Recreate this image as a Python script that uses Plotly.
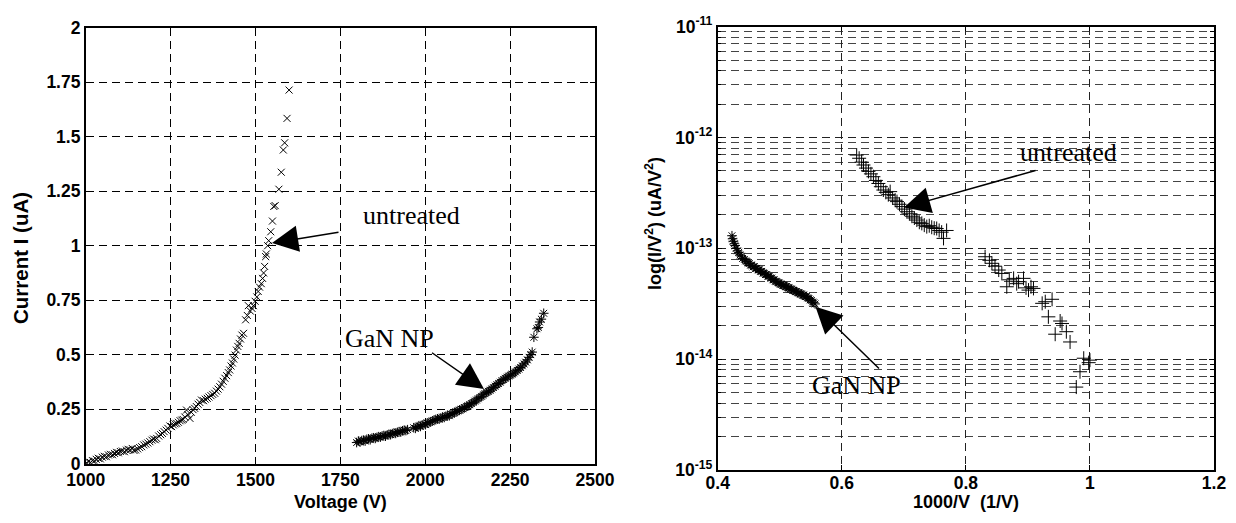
import plotly.graph_objects as go

# ---------------- data ----------------
# Left panel: I-V curves
untr_V = [1003, 1008, 1014, 1020, 1026, 1031, 1037, 1043, 1049, 1055, 1061, 1067, 1073, 1079, 1085,
          1091, 1096, 1102, 1108, 1114, 1120, 1125, 1131, 1137, 1142, 1147, 1153, 1159, 1165, 1171,
          1177, 1183, 1189, 1195, 1200, 1205, 1209, 1215, 1221, 1226, 1231, 1237, 1242, 1248, 1253,
          1258, 1263, 1268, 1273, 1278, 1283, 1287, 1292, 1297, 1301, 1307, 1311, 1316, 1321, 1326,
          1331, 1336, 1341, 1347, 1352, 1358, 1363, 1369, 1374, 1380, 1385, 1390, 1395, 1400, 1405,
          1410, 1415, 1420, 1424, 1428, 1432, 1436, 1440, 1444, 1448, 1452, 1456, 1460, 1465, 1471,
          1476, 1479, 1485, 1490, 1494, 1499, 1504, 1508, 1512, 1517, 1521, 1524, 1527, 1530, 1532,
          1536, 1539, 1545, 1550, 1554, 1558, 1569, 1576, 1582, 1586, 1593, 1599]
untr_I = [0.004, 0.009, 0.006, 0.014, 0.012, 0.020, 0.025, 0.022, 0.030, 0.034, 0.032, 0.040, 0.043, 0.041, 0.047,
          0.052, 0.050, 0.056, 0.058, 0.055, 0.062, 0.066, 0.064, 0.070, 0.061, 0.063, 0.068, 0.074, 0.078, 0.086,
          0.090, 0.095, 0.101, 0.108, 0.113, 0.110, 0.116, 0.127, 0.133, 0.139, 0.147, 0.154, 0.162, 0.173, 0.170,
          0.178, 0.183, 0.185, 0.190, 0.197, 0.200, 0.203, 0.214, 0.246, 0.225, 0.208, 0.236, 0.248, 0.254, 0.262,
          0.273, 0.281, 0.292, 0.289, 0.296, 0.300, 0.306, 0.312, 0.318, 0.323, 0.333, 0.342, 0.353, 0.365, 0.378,
          0.392, 0.404, 0.418, 0.430, 0.448, 0.462, 0.480, 0.498, 0.521, 0.538, 0.552, 0.572, 0.590, 0.598, 0.660,
          0.680, 0.725, 0.700, 0.712, 0.725, 0.745, 0.765, 0.790, 0.810, 0.826, 0.850, 0.875, 0.905, 0.950, 0.962,
          1.000, 1.023, 1.064, 1.113, 1.180, 1.184, 1.259, 1.337, 1.439, 1.472, 1.584, 1.714]

gan_V = [1798, 1803, 1808, 1813, 1818, 1823, 1828, 1833, 1838, 1843, 1848, 1853, 1858, 1863, 1868,
         1873, 1878, 1883, 1888, 1893, 1898, 1903, 1908, 1913, 1918, 1923, 1928, 1933, 1938, 1943,
         1948, 1966, 1971, 1976, 1981, 1986, 1991, 1996, 2001, 2006, 2011, 2016, 2021, 2026, 2031,
         2036, 2041, 2046, 2051, 2056, 2061, 2066, 2071, 2076, 2081, 2086, 2091, 2096, 2101, 2106,
         2111, 2116, 2121, 2126, 2131, 2136, 2141, 2146, 2151, 2156, 2161, 2166, 2171, 2176, 2181,
         2186, 2191, 2196, 2201, 2206, 2211, 2216, 2221, 2226, 2231, 2236, 2241, 2246, 2251, 2256,
         2261, 2266, 2271, 2276, 2281, 2286, 2291, 2296, 2301, 2306, 2311, 2315, 2320, 2329, 2333,
         2337, 2342, 2349]
gan_I = [0.097, 0.104, 0.099, 0.106, 0.108, 0.104, 0.112, 0.114, 0.110, 0.117, 0.119, 0.116, 0.121, 0.124, 0.122,
         0.127, 0.129, 0.126, 0.132, 0.135, 0.133, 0.138, 0.141, 0.139, 0.144, 0.147, 0.145, 0.151, 0.154, 0.152,
         0.156, 0.165, 0.162, 0.170, 0.173, 0.171, 0.178, 0.181, 0.179, 0.186, 0.189, 0.192, 0.196, 0.199, 0.203,
         0.206, 0.204, 0.210, 0.214, 0.212, 0.218, 0.222, 0.220, 0.227, 0.231, 0.234, 0.238, 0.242, 0.246, 0.250,
         0.252, 0.258, 0.262, 0.265, 0.270, 0.276, 0.281, 0.287, 0.292, 0.298, 0.304, 0.309, 0.316, 0.321, 0.327,
         0.332, 0.337, 0.343, 0.349, 0.356, 0.362, 0.368, 0.374, 0.381, 0.386, 0.392, 0.397, 0.402, 0.406, 0.411,
         0.416, 0.421, 0.428, 0.434, 0.441, 0.449, 0.458, 0.466, 0.476, 0.488, 0.500, 0.512, 0.580, 0.619, 0.625,
         0.650, 0.663, 0.690]

# Right panel: Fowler-Nordheim plot
fn_untr_x = [0.624, 0.628, 0.632, 0.635, 0.639, 0.643, 0.647, 0.651, 0.655, 0.659, 0.663, 0.667, 0.671, 0.675,
             0.678, 0.682, 0.686, 0.689, 0.693, 0.697, 0.701, 0.705, 0.709, 0.713, 0.717, 0.721, 0.725, 0.729,
             0.733, 0.737, 0.741, 0.745, 0.749, 0.753, 0.757, 0.761, 0.764, 0.769,
             0.831, 0.838, 0.842, 0.847, 0.853, 0.858, 0.866, 0.870, 0.877, 0.882, 0.885, 0.893, 0.897, 0.901,
             0.905, 0.909, 0.923, 0.928, 0.933, 0.939, 0.944, 0.952, 0.955, 0.962, 0.968, 0.978, 0.984, 0.990,
             0.998, 1.000]
fn_untr_y = [6.95e-13, 6.5e-13, 6.0e-13, 5.65e-13, 5.3e-13, 4.95e-13, 4.7e-13, 4.43e-13, 4.1e-13, 3.85e-13,
             3.6e-13, 3.36e-13, 3.2e-13, 3.05e-13, 3.25e-13, 2.85e-13, 2.72e-13, 2.64e-13, 2.5e-13, 2.38e-13,
             2.26e-13, 2.14e-13, 2.05e-13, 1.95e-13, 1.88e-13, 1.8e-13, 1.72e-13, 1.68e-13, 1.62e-13, 1.57e-13,
             1.6e-13, 1.55e-13, 1.52e-13, 1.51e-13, 1.45e-13, 1.4e-13, 1.23e-13, 1.45e-13,
             8.4e-14, 7.8e-14, 7.33e-14, 6.9e-14, 6.37e-14, 5.94e-14, 4.5e-14, 5.2e-14, 5.36e-14, 4.8e-14,
             5.0e-14, 5.36e-14, 4.4e-14, 4.2e-14, 4.5e-14, 4.35e-14, 3.19e-14, 3.3e-14, 2.41e-14, 3.47e-14,
             1.68e-14, 2.21e-14, 2.1e-14, 1.77e-14, 1.43e-14, 5.6e-15, 7.7e-15, 1.02e-14, 9.3e-15, 9.8e-15]

fn_gan_x = [0.423, 0.424, 0.425, 0.427, 0.428, 0.430, 0.432, 0.434, 0.436, 0.438, 0.440, 0.443, 0.445, 0.447,
            0.449, 0.451, 0.453, 0.455, 0.457, 0.459, 0.461, 0.463, 0.465, 0.467, 0.469, 0.471, 0.473, 0.475,
            0.477, 0.479, 0.481, 0.483, 0.485, 0.487, 0.489, 0.491, 0.493, 0.495, 0.497, 0.499, 0.501, 0.503,
            0.505, 0.507, 0.509, 0.511, 0.513, 0.515, 0.517, 0.519, 0.521, 0.523, 0.525, 0.527, 0.529, 0.531,
            0.533, 0.535, 0.537, 0.539, 0.541, 0.543, 0.545, 0.547, 0.549, 0.551, 0.553, 0.555, 0.557]
fn_gan_y = [1.30e-13, 1.22e-13, 1.16e-13, 1.10e-13, 1.06e-13, 1.00e-13, 9.5e-14, 9.2e-14, 8.7e-14, 8.5e-14,
            8.1e-14, 7.95e-14, 7.7e-14, 7.6e-14, 7.35e-14, 7.3e-14, 7.05e-14, 7.0e-14, 6.8e-14, 6.85e-14,
            6.6e-14, 6.6e-14, 6.4e-14, 6.4e-14, 6.2e-14, 6.2e-14, 6.0e-14, 5.95e-14, 5.8e-14, 5.8e-14,
            5.6e-14, 5.6e-14, 5.4e-14, 5.4e-14, 5.2e-14, 5.2e-14, 5.05e-14, 5.0e-14, 4.9e-14, 4.87e-14,
            4.75e-14, 4.74e-14, 4.63e-14, 4.62e-14, 4.53e-14, 4.52e-14, 4.42e-14, 4.4e-14, 4.3e-14, 4.28e-14,
            4.18e-14, 4.17e-14, 4.08e-14, 4.07e-14, 3.98e-14, 3.97e-14, 3.88e-14, 3.87e-14, 3.78e-14, 3.77e-14,
            3.68e-14, 3.67e-14, 3.58e-14, 3.53e-14, 3.43e-14, 3.39e-14, 3.28e-14, 3.23e-14, 3.15e-14]

left_xticks = [1000, 1250, 1500, 1750, 2000, 2250, 2500]
left_xlabels = ["1000", "1250", "1500", "1750", "2000", "2250", "2500"]
left_yticks = [0, 0.25, 0.5, 0.75, 1, 1.25, 1.5, 1.75, 2]
left_ylabels = ["0", "0.25", "0.5", "0.75", "1", "1.25", "1.5", "1.75", "2"]
right_xticks = [0.4, 0.6, 0.8, 1.0, 1.2]
right_xlabels = ["0.4", "0.6", "0.8", "1", "1.2"]
right_yexps = [-15, -14, -13, -12, -11]

# ---------------- figure ----------------
W, H = 1236, 523
def px(x):
    return x / W
def py(y):
    return 1 - y / H
def b(s):
    return "<b>" + s + "</b>"

fig = go.Figure()
fig.add_trace(go.Scatter(x=untr_V, y=untr_I, mode="markers", xaxis="x", yaxis="y",
                         marker=dict(symbol="x-thin-open", size=7, color="black", line=dict(color="black", width=1)),
                         name="untreated"))
fig.add_trace(go.Scatter(x=gan_V, y=gan_I, mode="markers", xaxis="x", yaxis="y",
                         marker=dict(symbol="asterisk-open", size=8, color="black", line=dict(color="black", width=1)),
                         name="GaN NP"))
fig.add_trace(go.Scatter(x=fn_untr_x, y=fn_untr_y, mode="markers", xaxis="x2", yaxis="y2",
                         marker=dict(symbol="cross-thin-open", size=10, color="black", line=dict(color="black", width=1)),
                         name="untreated"))
fig.add_trace(go.Scatter(x=fn_gan_x, y=fn_gan_y, mode="markers", xaxis="x2", yaxis="y2",
                         marker=dict(symbol="asterisk-open", size=8, color="black", line=dict(color="black", width=1)),
                         name="GaN NP"))

FAM = "Liberation Sans, Arial, sans-serif"
TF = dict(family=FAM, size=17.5, color="black")
DASH = "8px,5px"
common = dict(showline=True, linecolor="black", linewidth=1.5, mirror="ticks",
              ticks="inside", ticklen=5, tickcolor="black", tickwidth=1,
              showgrid=True, gridwidth=1, griddash=DASH, automargin=False,
              zeroline=False, tickfont=TF, tickmode="array")

minor_vals = [d * 10.0 ** e for e in range(-15, -11) for d in range(2, 10)]

fig.update_layout(
    width=W, height=H,
    margin=dict(l=0, r=0, t=0, b=0, autoexpand=False),
    paper_bgcolor="white", plot_bgcolor="white",
    showlegend=False,
    xaxis=dict(domain=[px(85.7), px(595)], range=[1000, 2500], tickvals=left_xticks,
               ticktext=[b(s) for s in left_xlabels], anchor="y", gridcolor="black",
               **common),
    yaxis=dict(domain=[py(463.7), py(27.7)], range=[0, 2], tickvals=left_yticks,
               ticktext=[b(s) for s in left_ylabels], anchor="x", gridcolor="black",
               **common),
    xaxis2=dict(domain=[px(717.7), px(1214)], range=[0.4, 1.2], tickvals=right_xticks,
                ticktext=[b(s) for s in right_xlabels], anchor="y2", gridcolor="#222",
                ticklabelstandoff=-4, **common),
    yaxis2=dict(domain=[py(470), py(26.7)], type="log", range=[-15, -11],
                tickvals=[10.0 ** e for e in right_yexps],
                ticktext=["<b>10<sup>%d</sup></b>" % e for e in right_yexps],
                anchor="x2", gridcolor="#222",
                minor=dict(tickmode="array", tickvals=minor_vals, showgrid=True, gridcolor="#444", gridwidth=1,
                           griddash=DASH, ticks="inside", ticklen=4, tickcolor="black"),
                **common),
)

# axis titles (placed as text at the reference positions)
titles = [("<b>Voltage (V)</b>", 340, 502, 0, 18),
          ("<b>Current I (uA)</b>", 20, 258, -90, 20.5),
          ("<b>1000/V\u00a0 (1/V)</b>", 966, 502, 0, 18),
          ("<b>log(I/V<sup>2</sup>) (uA/V<sup>2</sup>)</b>", 654, 224, -90, 18)]
for t, x, y, ang, sz in titles:
    fig.add_annotation(text=t, xref="paper", yref="paper", x=px(x), y=py(y), showarrow=False,
                       textangle=ang, xanchor="center", yanchor="middle",
                       font=dict(family=FAM, size=sz, color="black"))

# white boxes behind labels (cover grid lines, below data)
boxes = [(341, 185, 507, 244), (326, 322, 486, 358), (1000, 130, 1177, 166), (795, 361, 977, 416)]
for x0, y0, x1, y1 in boxes:
    fig.add_shape(type="rect", xref="paper", yref="paper", x0=px(x0), x1=px(x1), y0=py(y1), y1=py(y0),
                  fillcolor="white", line=dict(width=0), layer="between")

LF = dict(family="Liberation Serif, Times New Roman, serif", size=26, color="black")
labels = [("untreated", 411, 215), ("GaN NP", 389, 338), ("untreated", 1068, 152), ("GaN NP", 857, 385)]
for t, x, y in labels:
    fig.add_annotation(text=t, xref="paper", yref="paper", x=px(x), y=py(y), showarrow=False,
                       font=LF, xanchor="center", yanchor="middle")

# arrows: (tip_x, tip_y, tail_x, tail_y) in pixels
arrows = [(272, 243, 340, 232), (484, 389, 430.5, 351.7), (904, 207.5, 1037, 170), (815.5, 306.7, 880.5, 370)]
for tx, ty, sx, sy in arrows:
    fig.add_annotation(text="", xref="paper", yref="paper", x=px(tx), y=py(ty),
                       ax=sx - tx, ay=sy - ty, showarrow=True, arrowhead=2, arrowsize=3.5,
                       arrowwidth=1.5, arrowcolor="black", standoff=0)

fig.write_html("out.html", config={"displayModeBar": False},
               post_script="document.body.style.margin='0px';")
